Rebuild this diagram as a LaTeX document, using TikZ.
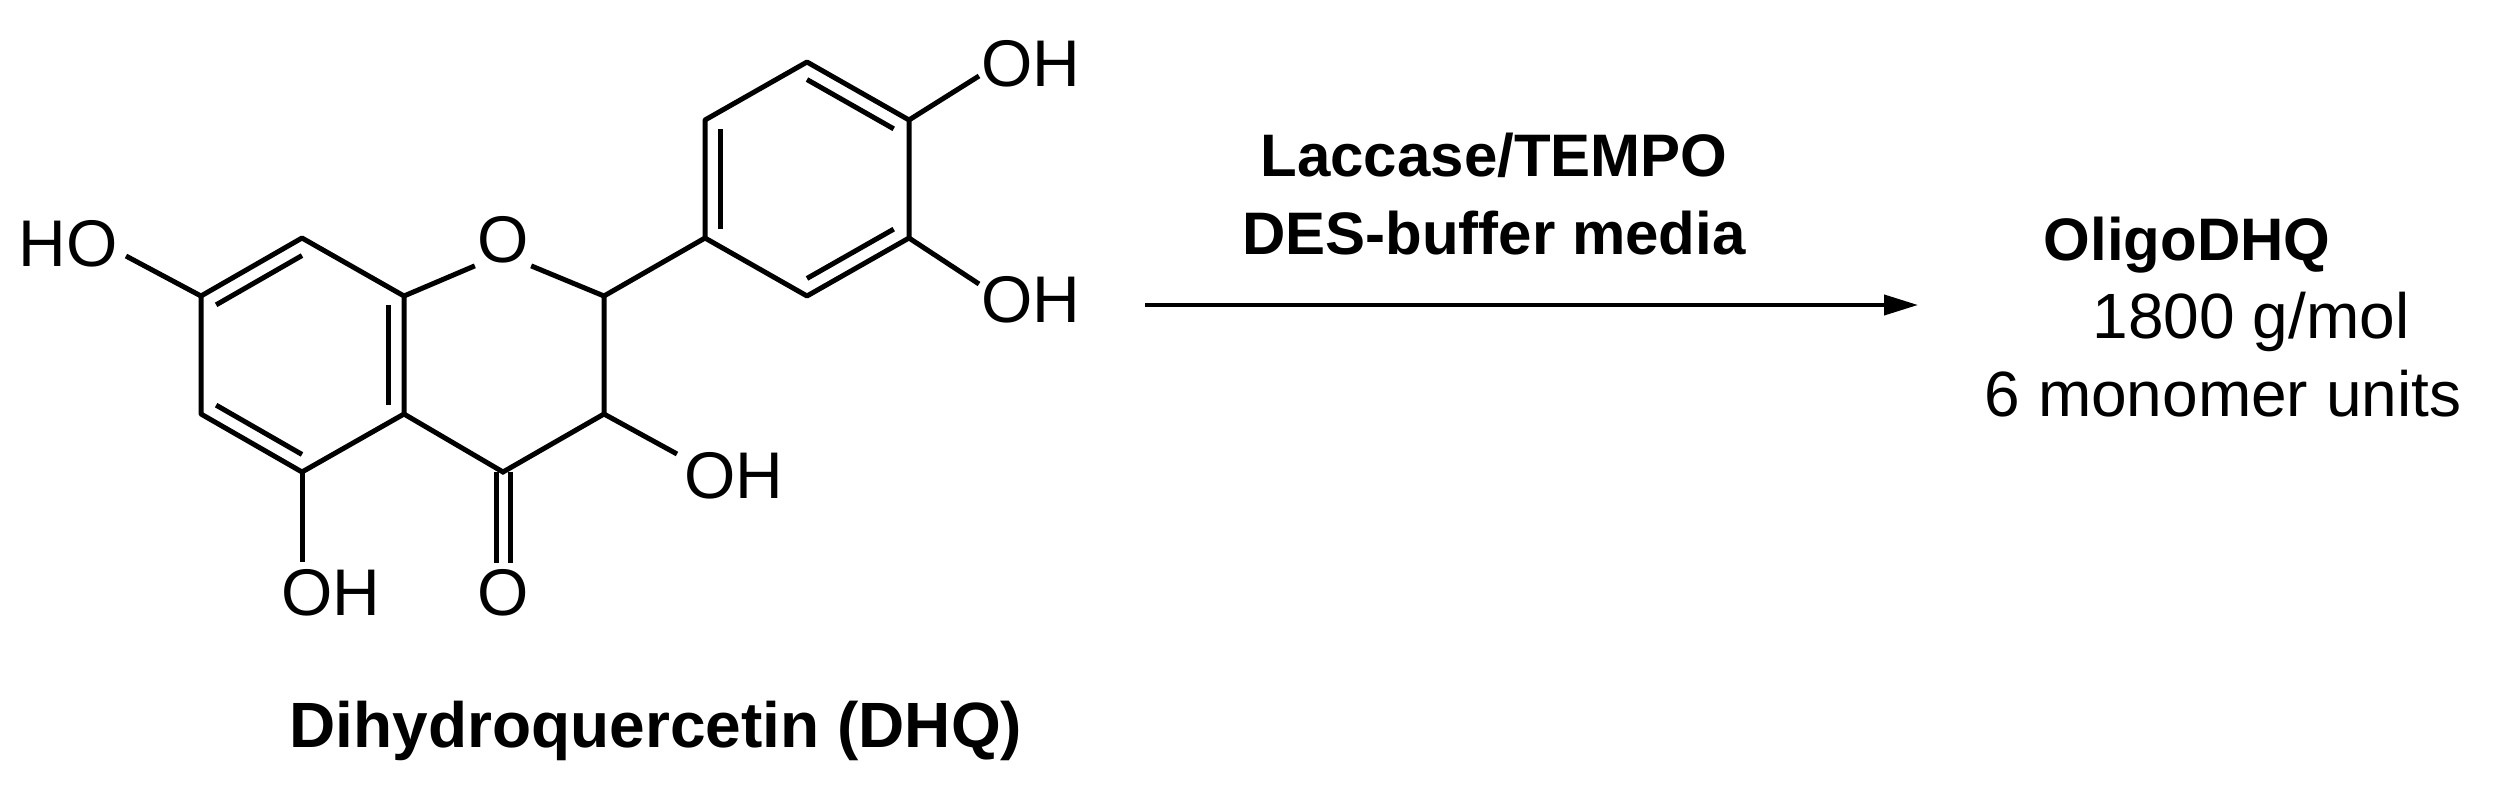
\documentclass[tikz,border=0pt]{standalone}
\usepackage{fontspec}
\setmainfont{Liberation Sans}
\usetikzlibrary{calc,arrows.meta}
\begin{document}
\begin{tikzpicture}[x=1pt,y=-1pt,line width=5pt,
  atom/.style={inner sep=0pt,font=\fontsize{66}{66}\selectfont},
  lbl/.style={inner sep=0pt,font=\fontsize{64}{70}\selectfont},
  blbl/.style={inner sep=0pt,font=\fontsize{64}{70}\selectfont\bfseries}]
\useasboundingbox (0,0) rectangle (2519,789);
% ring A
\coordinate (C8) at (302,238);
\coordinate (C7) at (201,296);
\coordinate (C6) at (201,414);
\coordinate (C5) at (302,472);
\coordinate (C4a) at (404,414);
\coordinate (C8a) at (404,296);
\coordinate (cA) at (302,355);
\coordinate (C2) at (604,296);
\coordinate (C3) at (604,414);
\coordinate (C4) at (503,472);
% ring B
\coordinate (B1) at (705,238);
\coordinate (B2) at (705,120);
\coordinate (B3) at (807,62);
\coordinate (B4) at (909,120);
\coordinate (B5) at (909,238);
\coordinate (B6) at (807,296);
\coordinate (cB) at (807,179);
% labels
\node[atom] (O1) at (503,240) {O};
\node[atom] (Ok) at (503,593) {O};
\node[atom,anchor=west] (OH5) at (279,593) {OH};
\node[atom,anchor=east] (HO7) at (120,244) {HO};
\node[atom,anchor=west] (OH3) at (682,476) {OH};
\node[atom,anchor=west] (OH4) at (979,64) {OH};
\node[atom,anchor=west] (OH3p) at (979,300) {OH};
% bonds
\draw[line join=round] (C8a)--(C8)--(C7)--(C6)--(C5)--(C4a)--cycle;
\draw (C4a)--(C4)--(C3)--(C2);
\draw (C8a)--(O1.south west);
\draw (O1.south east)--(C2);
\draw[line join=round] (B1)--(B2)--(B3)--(B4)--(B5)--(B6)--cycle;
\draw (C2)--(B1);
\draw ($(C8)!0.15!(cA)$)--($(C7)!0.15!(cA)$);
\draw ($(C6)!0.15!(cA)$)--($(C5)!0.15!(cA)$);
\draw ($(C4a)!0.15!(cA)$)--($(C8a)!0.15!(cA)$);
\draw ($(B1)!0.15!(cB)$)--($(B2)!0.15!(cB)$);
\draw ($(B3)!0.15!(cB)$)--($(B4)!0.15!(cB)$);
\draw ($(B5)!0.15!(cB)$)--($(B6)!0.15!(cB)$);
\draw (C4)++(-7,0)--(496,563) (C4)++(7,0)--(510,563);
\draw (C5)--(302,562);
\draw (C7)--(126,256);
\draw (C3)--(677,454);
\draw (B4)--(979,76);
\draw (B5)--(979,284);
% caption
\node[blbl] (title) at (656,731) {Dihydroquercetin (DHQ)};
\coordinate (a1) at (1145,305);
\coordinate (a2) at (1918,305);
\draw[line width=4pt,-{Triangle[length=34pt,width=20pt]}] (a1)--(a2);
\node[blbl,font=\fontsize{60}{60}\selectfont\bfseries] (cond1) at (1494,155) {Laccase/TEMPO};
\node[blbl,font=\fontsize{60}{60}\selectfont\bfseries] (cond2) at (1494,233) {DES-buffer media};
\node[blbl,font=\fontsize{60}{60}\selectfont\bfseries] (prod) at (2187,245) {OligoDHQ};
\node[lbl] (mw) at (2251,322) {1800 g/mol};
\node[lbl] (units) at (2223,394) {6 monomer units};
\end{tikzpicture}
\end{document}
